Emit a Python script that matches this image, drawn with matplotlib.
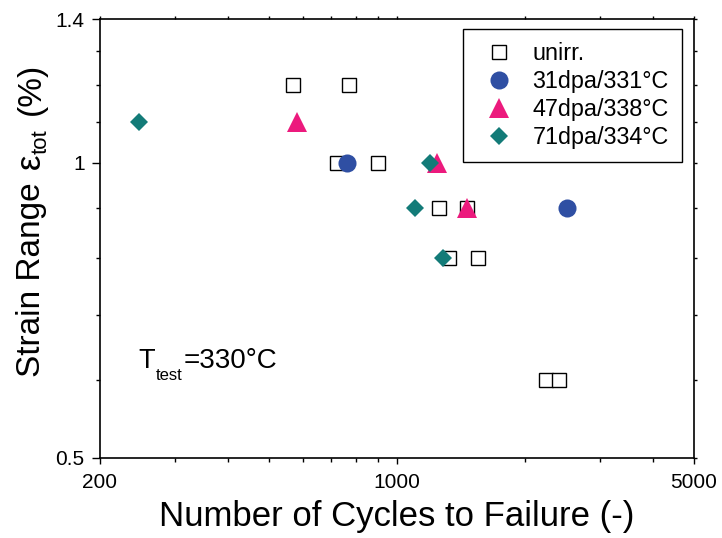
import matplotlib
matplotlib.use("Agg")
import matplotlib.pyplot as plt
from matplotlib.ticker import FixedLocator, FixedFormatter, NullFormatter
from matplotlib.transforms import IdentityTransform, offset_copy

plt.rcParams['font.family'] = ['Liberation Sans', 'DejaVu Sans']

# Fatigue data: cycles to failure vs total strain range (%)
unirr_n = [569, 771, 723, 902, 1254, 1460, 1329, 1547, 2240, 2400]
unirr_e = [1.2, 1.2, 1.0, 1.0, 0.9, 0.9, 0.8, 0.8, 0.6, 0.6]

dpa31_n = [764, 2508]
dpa31_e = [1.0, 0.9]

dpa47_n = [582, 1240, 1459]
dpa47_e = [1.1, 1.0, 0.9]

dpa71_n = [247, 1198, 1100, 1283]
dpa71_e = [1.1, 1.0, 0.9, 0.8]

labels = ['unirr.', '31dpa/331°C', '47dpa/338°C', '71dpa/334°C']

x_major = [200, 1000, 5000]
x_minor = [300, 400, 500, 600, 700, 800, 900, 2000, 3000, 4000]
y_major = [0.5, 1.0, 1.4]
y_major_labels = ['0.5', '1', '1.4']
y_minor = [0.6, 0.7, 0.8, 0.9, 1.1, 1.2, 1.3]

fig = plt.figure(figsize=(7.22, 5.38), dpi=100)
ax = fig.add_axes([0.1385, 0.1487, 0.8227, 0.8151])

ax.plot(unirr_n, unirr_e, ls='none', marker='s', ms=10.4, mfc='white',
        mec='black', mew=1.0, label=labels[0], zorder=3)
ax.plot(dpa31_n, dpa31_e, ls='none', marker='o', ms=13, mfc='#2F4FA3',
        mec='#2F4FA3', mew=0, label=labels[1], zorder=4)
ax.plot(dpa47_n, dpa47_e, ls='none', marker='^', ms=14.5, mfc='#EC1A7D',
        mec='#EC1A7D', mew=0, label=labels[2], zorder=5)
ax.plot(dpa71_n, dpa71_e, ls='none', marker='D', ms=9.2, mfc='#137B78',
        mec='#137B78', mew=0, label=labels[3], zorder=6)

ax.set_xscale('log')
ax.set_yscale('log')
ax.set_xlim(200, 5000)
ax.set_ylim(0.5, 1.4)

ax.xaxis.set_major_locator(FixedLocator(x_major))
ax.xaxis.set_major_formatter(FixedFormatter([str(v) for v in x_major]))
ax.xaxis.set_minor_locator(FixedLocator(x_minor))
ax.xaxis.set_minor_formatter(NullFormatter())
ax.yaxis.set_major_locator(FixedLocator(y_major))
ax.yaxis.set_major_formatter(FixedFormatter(y_major_labels))
ax.yaxis.set_minor_locator(FixedLocator(y_minor))
ax.yaxis.set_minor_formatter(NullFormatter())

for s in ax.spines.values():
    s.set_linewidth(1.2)

ax.tick_params(which='both', direction='out', top=True, right=True,
               labelsize=15, width=1.0, colors='black')
ax.tick_params(axis='x', which='major', length=4.5, pad=6.5)
ax.tick_params(axis='x', which='minor', length=3)
ax.tick_params(axis='y', which='major', length=6, pad=5)
ax.tick_params(axis='y', which='minor', length=3.2)

# shorter ticks on the top and right spines
for tk in ax.xaxis.get_major_ticks() + ax.yaxis.get_major_ticks():
    tk.tick2line.set_markersize(2.5)
for tk in ax.xaxis.get_minor_ticks() + ax.yaxis.get_minor_ticks():
    tk.tick2line.set_markersize(2)

ax.set_xlabel('Number of Cycles to Failure (-)', fontsize=25)
ax.xaxis.set_label_coords(0.5, -0.095)


def draw_pieces(x, y, pieces, rotation=0):
    """Draw text runs one after another along a baseline (pixel coords).

    Each piece is (text, fontsize, drop_px, gap_px): drop lowers the run
    below the main baseline, gap adds space before it.
    """
    renderer = fig.canvas.get_renderer()
    adv = 0.0
    base = IdentityTransform()
    for txt, size, drop, gap in pieces:
        adv += gap
        if rotation == 0:
            dx, dy = adv, -drop
        else:
            dx, dy = drop, adv
        tr = offset_copy(base, fig=fig, x=dx, y=dy, units='dots')
        t = fig.text(x, y, txt, fontsize=size, transform=tr,
                     rotation=rotation, rotation_mode='anchor',
                     ha='left', va='baseline')
        bb = t.get_window_extent(renderer)
        adv += bb.width if rotation == 0 else bb.height


H = 538
# y-axis title with subscript
draw_pieces(40, H - 377, [('Strain Range', 24, 0, 0),
                          ('ε', 25, 0, 13),
                          ('tot', 16, 6.5, 0),
                          ('(%)', 24, 0, 14)], rotation=90)

# test temperature note
draw_pieces(138, H - 368.5, [('T', 19.5, 0, 0),
                             ('test', 12, 12, 1),
                             ('=330°C', 20, 0, 1)])

leg = ax.legend(loc='upper right', bbox_to_anchor=(0.9793, 0.9777),
                borderaxespad=0, fontsize=16.8, frameon=True, fancybox=False,
                edgecolor='black', framealpha=1, borderpad=0.55,
                handlelength=2.0, handletextpad=0.45, labelspacing=0.22,
                numpoints=1)
leg.get_frame().set_linewidth(1.0)

fig.savefig('out.png', dpi=100)
